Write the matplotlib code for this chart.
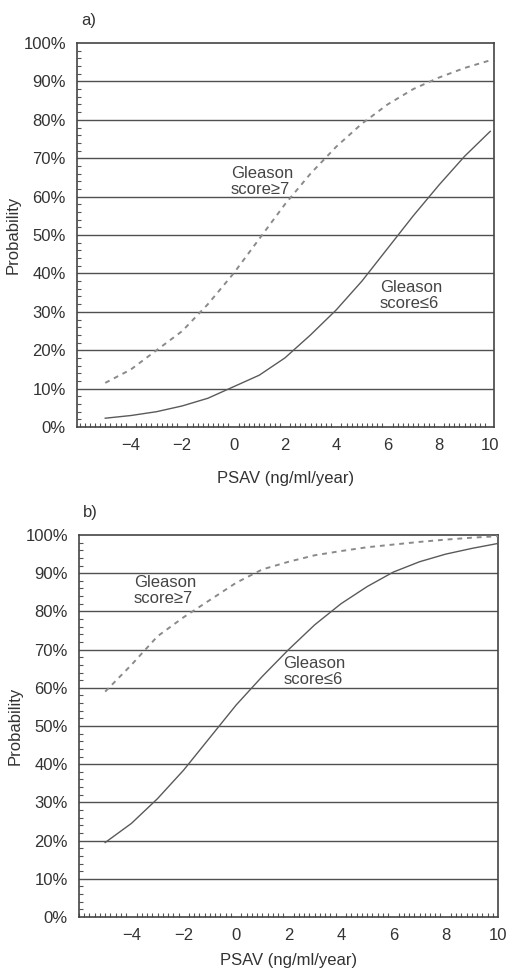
import matplotlib
matplotlib.use('Agg')
import matplotlib.pyplot as plt
import numpy as np
from matplotlib.ticker import MultipleLocator, FuncFormatter

plt.rcParams['font.family'] = ['Liberation Sans', 'DejaVu Sans']

# PSAV values (ng/ml/year)
psav = [-5, -4, -3, -2, -1, 0, 1, 2, 3, 4, 5, 6, 7, 8, 9, 10]

# panel a) probability (%)
a_ge7 = [11.5, 15, 20, 25, 32, 40, 49, 58, 66, 73, 79, 84, 88, 91, 93.5, 95.5]
a_le6 = [2.3, 3, 4, 5.5, 7.5, 10.5, 13.5, 18, 24, 30.5, 38, 46.5, 55, 63, 70.5, 77]

# panel b) probability (%)
b_ge7 = [59, 66, 73.5, 78.5, 83, 87.5, 91, 93, 94.7, 95.8, 96.8, 97.5, 98.2, 98.8, 99.3, 99.7]
b_le6 = [19.5, 24.5, 31, 38.5, 47, 55.5, 63, 70, 76.5, 82, 86.5, 90.3, 93, 95, 96.5, 97.8]

x_ticks = [-4, -2, 0, 2, 4, 6, 8, 10]
y_ticks = list(range(0, 101, 10))

fig = plt.figure(figsize=(5.08, 9.71), dpi=100)
ax_a = fig.add_axes([0.1516, 0.5602, 0.821, 0.3955])
ax_b = fig.add_axes([0.1555, 0.0556, 0.825, 0.3934])

panels = [
    (ax_a, a_ge7, a_le6, 'a)', (-6.1, 10.15),
     (-0.1, 64), (5.7, 34.3), 13),
    (ax_b, b_ge7, b_le6, 'b)', (-6.0, 10.0),
     (-3.9, 85.4), (1.8, 64.2), 7),
]

for ax, ge7, le6, tag, xlim, pos7, pos6, xpad in panels:
    for yv in y_ticks[1:-1]:
        ax.axhline(yv, color='#505050', lw=1.0, zorder=1)
    ax.plot(psav, ge7, color='#8a8a8a', lw=1.4, linestyle=(0, (2.5, 2.5)), zorder=3)
    ax.plot(psav, le6, color='#5a5a5a', lw=1.0, zorder=3)
    ax.set_xlim(*xlim)
    ax.set_ylim(0, 100)
    ax.set_xticks(x_ticks)
    ax.set_yticks(y_ticks)
    ax.yaxis.set_major_formatter(FuncFormatter(lambda v, p: f'{int(v)}%'))
    ax.xaxis.set_minor_locator(MultipleLocator(0.2))
    ax.yaxis.set_minor_locator(MultipleLocator(2))
    ax.tick_params(which='major', length=0, labelsize=12, colors='#333333', pad=8)
    ax.tick_params(which='minor', direction='in', length=3, color='#555555', width=0.8)
    for s in ax.spines.values():
        s.set_color('#444444')
        s.set_linewidth(1.2)
    ax.set_xlabel('PSAV (ng/ml/year)', fontsize=12, color='#333333', labelpad=xpad)
    ax.set_ylabel('Probability', fontsize=12, color='#333333', labelpad=2)
    ax.text(0.01, 1.04, tag, transform=ax.transAxes, fontsize=12,
            color='#333333', ha='left', va='bottom')
    ax.text(pos7[0], pos7[1], 'Gleason\nscore\u22657', fontsize=12, color='#444444',
            ha='left', va='center', linespacing=1.05, zorder=4)
    ax.text(pos6[0], pos6[1], 'Gleason\nscore\u22646', fontsize=12, color='#444444',
            ha='left', va='center', linespacing=1.05, zorder=4)

fig.savefig('out.png', dpi=100)
